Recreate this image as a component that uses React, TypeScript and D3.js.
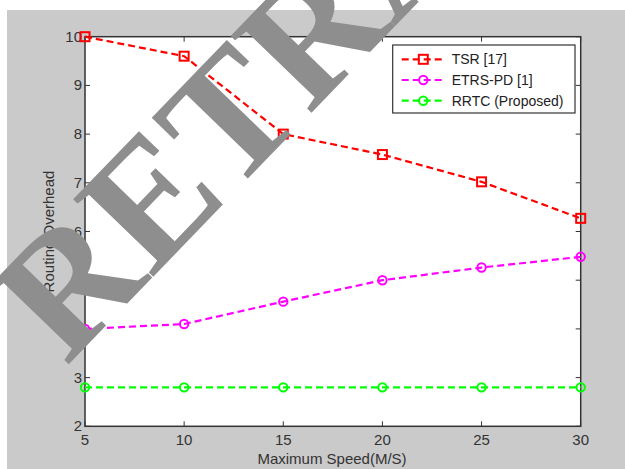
import React, { useEffect, useRef } from "react";
import * as d3 from "d3";

// chart data
const speeds = [5, 10, 15, 20, 25, 30];
const tsr = [10, 9.6, 8.0, 7.58, 7.02, 6.27];
const etrs = [4.0, 4.1, 4.56, 5.0, 5.26, 5.48];
const rrtc = [2.8, 2.8, 2.8, 2.8, 2.8, 2.8];
const xTicks = [5, 10, 15, 20, 25, 30];
const yTicks = [2, 3, 4, 5, 6, 7, 8, 9, 10];
const seriesNames = ["TSR [17]", "ETRS-PD [1]", "RRTC (Proposed)"];

const W = 625,
  H = 469;

export default function App() {
  const ref = useRef<SVGSVGElement>(null);

  useEffect(() => {
    const svg = d3.select(ref.current);
    svg.selectAll("*").remove();

    const left = 85,
      right = 580.7,
      top = 36.7,
      bottom = 426.3;

    const x = d3.scaleLinear().domain([5, 30]).range([left, right]);
    const y = d3.scaleLinear().domain([2, 10]).range([bottom, top]);

    // figure background
    svg.append("rect").attr("width", W).attr("height", H).attr("fill", "#fff");
    svg
      .append("rect")
      .attr("x", 7)
      .attr("y", 10)
      .attr("width", W - 7)
      .attr("height", H - 10)
      .attr("fill", "#cacaca");

    // plot area
    svg
      .append("rect")
      .attr("x", left)
      .attr("y", top)
      .attr("width", right - left)
      .attr("height", bottom - top)
      .attr("fill", "#fff");

    const axisColor = "#333";
    const tickLen = 5;
    const g = svg.append("g");

    // ticks on all four sides, pointing inward
    xTicks.forEach(t => {
      g.append("line")
        .attr("x1", x(t)).attr("x2", x(t))
        .attr("y1", bottom).attr("y2", bottom - tickLen)
        .attr("stroke", axisColor);
      g.append("line")
        .attr("x1", x(t)).attr("x2", x(t))
        .attr("y1", top).attr("y2", top + tickLen)
        .attr("stroke", axisColor);
      g.append("text")
        .attr("x", x(t))
        .attr("y", bottom + 19)
        .attr("text-anchor", "middle")
        .attr("font-family", "Liberation Sans, Arial, sans-serif")
        .attr("font-size", 15)
        .attr("fill", "#333")
        .text(t);
    });
    yTicks.forEach(t => {
      g.append("line")
        .attr("x1", left).attr("x2", left + tickLen)
        .attr("y1", y(t)).attr("y2", y(t))
        .attr("stroke", axisColor);
      g.append("line")
        .attr("x1", right).attr("x2", right - tickLen)
        .attr("y1", y(t)).attr("y2", y(t))
        .attr("stroke", axisColor);
      g.append("text")
        .attr("x", left - 3)
        .attr("y", y(t) + 5)
        .attr("text-anchor", "end")
        .attr("font-family", "Liberation Sans, Arial, sans-serif")
        .attr("font-size", 15)
        .attr("fill", "#333")
        .text(t);
    });

    // frame
    g.append("rect")
      .attr("x", left)
      .attr("y", top)
      .attr("width", right - left)
      .attr("height", bottom - top)
      .attr("fill", "none")
      .attr("stroke", axisColor)
      .attr("stroke-width", 1.5);

    // axis labels
    svg
      .append("text")
      .attr("x", 332)
      .attr("y", 464)
      .attr("text-anchor", "middle")
      .attr("font-family", "Liberation Sans, Arial, sans-serif")
      .attr("font-size", 15)
      .attr("fill", "#333")
      .text("Maximum Speed(M/S)");
    svg
      .append("text")
      .attr("transform", `translate(54,${(top + bottom) / 2}) rotate(-90)`)
      .attr("text-anchor", "middle")
      .attr("font-family", "Liberation Sans, Arial, sans-serif")
      .attr("font-size", 15)
      .attr("fill", "#333")
      .text("Routing Overhead");

    // series
    const series = [
      { name: seriesNames[0], values: tsr, color: "#ff0000", marker: "square" },
      { name: seriesNames[1], values: etrs, color: "#ff00ff", marker: "circle" },
      { name: seriesNames[2], values: rrtc, color: "#00ff00", marker: "circle" },
    ];

    const line = d3
      .line<number>()
      .x((d, i) => x(speeds[i]))
      .y(d => y(d));

    const drawMarker = (sel: any, type: string, cx: number, cy: number, color: string) => {
      if (type === "square") {
        sel.append("rect")
          .attr("x", cx - 4.5).attr("y", cy - 4.5)
          .attr("width", 9).attr("height", 9)
          .attr("fill", "none").attr("stroke", color).attr("stroke-width", 2);
      } else {
        sel.append("circle")
          .attr("cx", cx).attr("cy", cy).attr("r", 4.2)
          .attr("fill", "none").attr("stroke", color).attr("stroke-width", 2);
      }
    };

    series.forEach(s => {
      svg.append("path")
        .datum(s.values)
        .attr("d", line)
        .attr("fill", "none")
        .attr("stroke", s.color)
        .attr("stroke-width", 2.2)
        .attr("stroke-dasharray", "7,4");
      s.values.forEach((v, i) => drawMarker(svg, s.marker, x(speeds[i]), y(v), s.color));
    });

    // legend
    const lg = svg.append("g");
    lg.append("rect")
      .attr("x", 392.7).attr("y", 45)
      .attr("width", 575 - 392.7).attr("height", 68)
      .attr("fill", "#fff").attr("stroke", axisColor).attr("stroke-width", 1.2);
    const legendY = [59.3, 80, 100.7];
    series.forEach((s, i) => {
      lg.append("line")
        .attr("x1", 401.7).attr("x2", 445)
        .attr("y1", legendY[i]).attr("y2", legendY[i])
        .attr("stroke", s.color).attr("stroke-width", 2.2)
        .attr("stroke-dasharray", "7,4");
      drawMarker(lg, s.marker, 423.3, legendY[i], s.color);
      lg.append("text")
        .attr("x", 451.7).attr("y", legendY[i] + 5)
        .attr("font-family", "Liberation Sans, Arial, sans-serif")
        .attr("font-size", 14)
        .attr("fill", "#222")
        .text(s.name);
    });

    // watermark
    svg
      .append("text")
      .attr("transform", "translate(66,367) rotate(-46)")
      .attr("font-family", "Liberation Serif, Times New Roman, serif")
      .attr("font-weight", "bold")
      .attr("font-size", 170)
      .attr("fill", "#8e8e8e")
      .text("RETRACTED");
  }, []);

  return (
    <svg
      ref={ref}
      width={W}
      height={H}
      style={{ position: "absolute", left: 0, top: 0 }}
    />
  );
}
